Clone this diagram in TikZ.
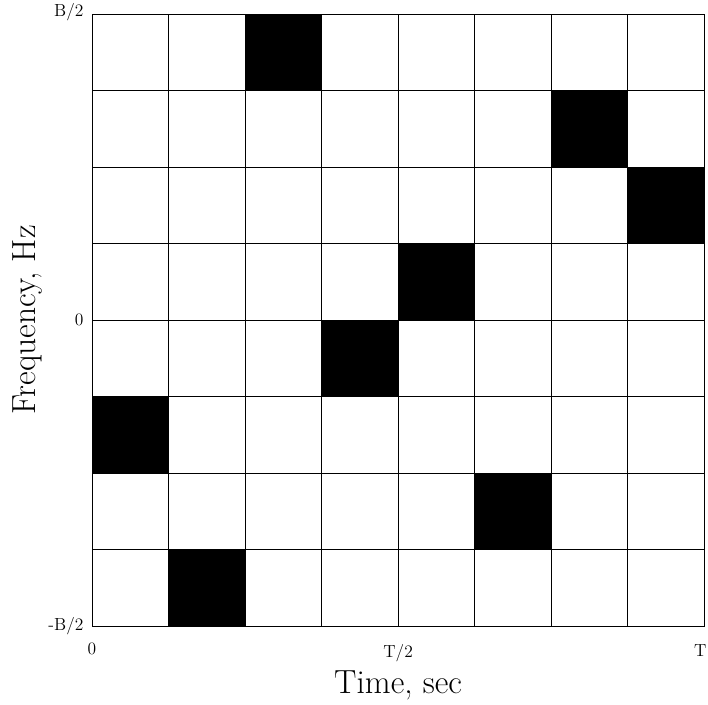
\documentclass[tikz,border=0pt]{standalone}
\usepackage{tikz}
\usetikzlibrary{calc, positioning}

\begin{document}
\begin{tikzpicture}[every node/.style={font=\fontsize{13}{15}\selectfont}]

% page frame
\useasboundingbox (-2.405,-2.039) rectangle (16.10,16.366);

% occupied time-frequency slots (column/row from bottom)
\foreach \col/\row in {2/7, 6/6, 7/5, 4/4, 3/3, 0/2, 5/1, 1/0}
  \fill[black] (2*\col,2*\row) rectangle ++(2,2);

% grid of slots
\draw[black, line width=0.6pt] (0,0) grid[step=2] (16,16);
\draw[black, line width=0.7pt] (0,0) rectangle (16,16);

% frequency ticks
\node[left] (ftop) at (-0.1,16.05) {B/2};
\node[left] (fmid) at (-0.1,8) {0};
\node[left] (fbot) at (-0.1,0) {-B/2};

% time ticks
\node (tzero) at (0,-0.6) {0};
\node (thalf) at (8,-0.7) {T/2};
\node (tend) at (15.9,-0.65) {T};

% axis labels
\node[font=\Huge] (xlab) at (8,-1.55) {Time, sec};
\node[font=\Huge, rotate=90] (ylab) at (-1.68,8) {Frequency, Hz};

\end{tikzpicture}
\end{document}
